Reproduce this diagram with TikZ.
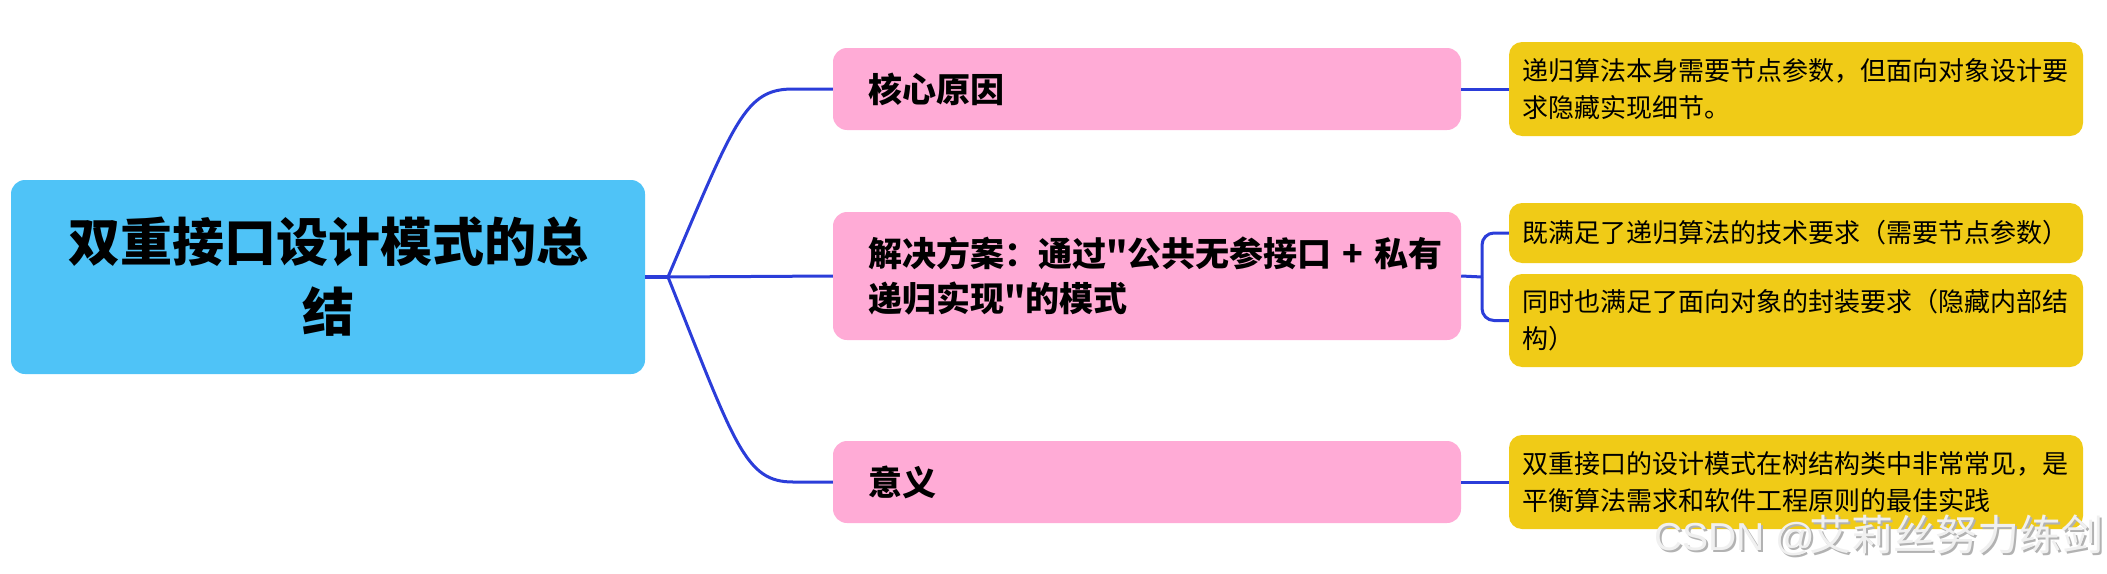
\documentclass[tikz,border=0pt]{standalone}
\usepackage{fontspec}
\setmainfont{Noto Sans CJK SC}[Ligatures=TeXOff]
\newfontfamily\latinfont{Liberation Sans}
\usepackage{tikz}
\definecolor{ccSky}{HTML}{4FC3F7}
\definecolor{ccPink}{HTML}{FFABD6}
\definecolor{ccGold}{HTML}{F0CB17}
\definecolor{ccBlue}{HTML}{2B3DD9}
\colorlet{mmLine}{ccBlue}
\newcommand{\wmtext}{\makebox[155pt][l]{\latinfont\fontsize{39}{39}\selectfont CSDN @}\makebox[292pt][s]{\fontsize{42}{42}\selectfont 艾\hfill 莉\hfill 丝\hfill 努\hfill 力\hfill 练\hfill 剑}}

\begin{document}
\begin{tikzpicture}[x=1pt,y=-1pt,
  rootbox/.style={fill=ccSky, rounded corners=14pt, minimum width=634pt, minimum height=194pt, inner sep=0pt, text width=600pt, align=center, font=\bfseries\fontsize{52}{70}\selectfont},
  topicbox/.style={fill=ccPink, rounded corners=14pt, minimum width=628pt, inner xsep=35pt, inner ysep=0pt, text width=558pt, align=left, font=\bfseries\fontsize{34}{45}\selectfont},
  notebox/.style={fill=ccGold, rounded corners=13pt, minimum width=574pt, inner xsep=13pt, inner ysep=0pt, text width=548pt, align=left, font=\fontsize{26}{37}\selectfont},
  link/.style={mmLine, line width=3pt},
  wm/.style={anchor=base west, inner sep=0pt}]
\useasboundingbox (0,0) rectangle (2107,573);
\node[rootbox] (root) at (328,277) {双重接口设计模式的总\\结};
\node[topicbox, minimum height=82pt] (cause) at (1147,89) {核心原因};
\node[topicbox, minimum height=128pt] (plan) at (1147,276) {解决方案：通过"公共无参接口~+~私有\\递归实现"的模式};
\node[topicbox, minimum height=82pt] (sense) at (1147,482) {意义};
\node[notebox, minimum height=94pt] (causenote) at (1796,89) {递归算法本身需要节点参数，但面向对象设计要\\求隐藏实现细节。};
\node[notebox, minimum height=60pt] (plannote) at (1796,233) {既满足了递归算法的技术要求（需要节点参数）};
\node[notebox, minimum height=93pt] (plannoteb) at (1796,320.5) {同时也满足了面向对象的封装要求（隐藏内部结\\构）};
\node[notebox, minimum height=94pt] (sensenote) at (1796,482) {双重接口的设计模式在树结构类中非常常见，是\\平衡算法需求和软件工程原则的最佳实践};
\coordinate (hub) at (668,277);
\coordinate (fork) at (1482,277);
\draw[link, line width=4pt] (root.east) -- (hub);
\draw[link] (hub) -- (plan.west);
\draw[link] (hub) .. controls (735,120) and (745,89) .. (793,89) -- (cause.west);
\draw[link] (hub) .. controls (735,445) and (745,482) .. (793,482) -- (sense.west);
\draw[link] (cause.east) -- (causenote.west);
\draw[link] (sense.east) -- (sensenote.west);
\draw[link] (plan.east) -- (fork);
\draw[link, rounded corners=12pt] (fork) |- (plannote.west);
\draw[link, rounded corners=12pt] (fork) |- (plannoteb.west);
\node[wm, text=black!30] (wmshade) at (1656,552) {\wmtext};
\node[wm, text=black!6] (wmark) at (1654,550) {\wmtext};
\end{tikzpicture}
\end{document}
